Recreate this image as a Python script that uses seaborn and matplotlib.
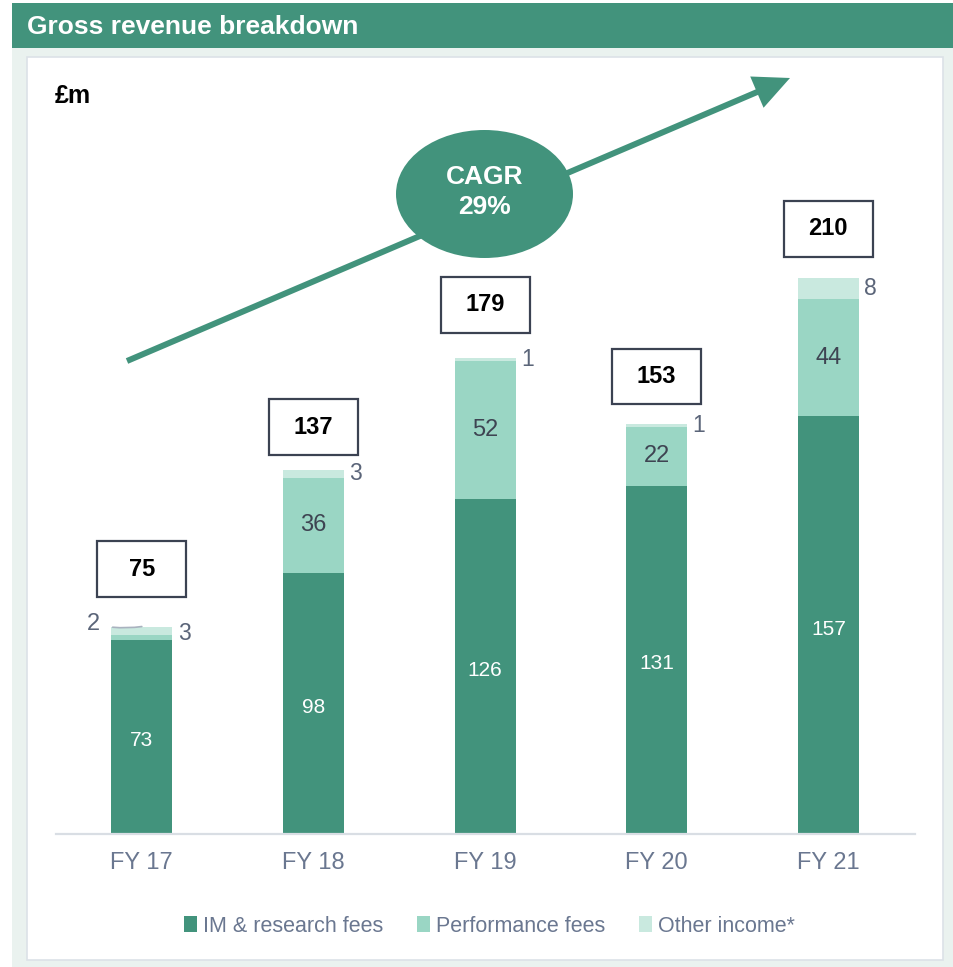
import matplotlib
matplotlib.use('Agg')
import matplotlib.pyplot as plt
import seaborn as sns
import pandas as pd
from matplotlib.patches import Rectangle, Ellipse, FancyArrow, Patch

# ---- data ----
years = ['FY 17', 'FY 18', 'FY 19', 'FY 20', 'FY 21']
im_fees = [73, 98, 126, 131, 157]
perf_fees = [2, 36, 52, 22, 44]
other_income = [3, 3, 1, 1, 8]
totals = [75, 137, 179, 153, 210]
series_names = ['IM & research fees', 'Performance fees', 'Other income*']
title = 'Gross revenue breakdown'
unit_label = '£m'
cagr_text = 'CAGR\n29%'

# ---- layout / style ----
box_offsets = [21.5, 16, 20, 18, 18.5]  # gap from stack top to total-box centre (value units)
C_IM = '#42937C'
C_PERF = '#9AD6C4'
C_OTHER = '#C9E9DF'
GREEN = '#42937C'
TICK_C = '#6A7790'
SIDE_C = '#5B6579'
INNER_DARK = '#3E4452'
BOX_EDGE = '#3B4252'

sns.set_theme(style='white')
plt.rcParams['font.family'] = ['Liberation Sans', 'DejaVu Sans']

W, H = 954, 967
fig = plt.figure(figsize=(W / 100, H / 100), dpi=100)
fig.patch.set_facecolor('white')

# background / decoration layer in pixel coordinates
bg = fig.add_axes([0, 0, 1, 1])
bg.set_xlim(0, W)
bg.set_ylim(H, 0)
bg.axis('off')
bg.add_patch(Rectangle((12, 48), W - 12, H - 48, facecolor='#EAF2EF', lw=0))
bg.add_patch(Rectangle((27, 57), 916, 903, facecolor='white', edgecolor='#DCE2E7', lw=1.2))
bg.add_patch(Rectangle((12, 3), W - 12, 45, facecolor=GREEN, lw=0))
bg.text(27, 27, title, color='white', fontsize=19, fontweight='bold', va='center', ha='left')
bg.text(55, 96, unit_label, color='black', fontsize=18, fontweight='bold', va='center', ha='left')

bg.add_patch(FancyArrow(127, 361, 790 - 127, 78 - 361, width=6, head_width=34,
                        head_length=36, length_includes_head=True, color=GREEN, lw=0))
bg.add_patch(Ellipse((484.5, 194), 177, 128, facecolor=GREEN, lw=0))
bg.text(484.5, 192, cagr_text, color='white', fontsize=19, fontweight='bold',
        ha='center', va='center', linespacing=1.35)

# ---- chart ----
ax = fig.add_axes([56 / W, (H - 834) / H, (915 - 56) / W, (834 - 60) / H])
ax.patch.set_alpha(0)

df = pd.DataFrame({'year': years, 'im': im_fees, 'perf': perf_fees, 'other': other_income})
df['lvl2'] = df['im'] + df['perf']
df['lvl3'] = df['lvl2'] + df['other']

BW = 0.355
for col, c in (('lvl3', C_OTHER), ('lvl2', C_PERF), ('im', C_IM)):
    sns.barplot(data=df, x='year', y=col, color=c, width=BW, saturation=1,
                errorbar=None, linewidth=0, edgecolor='none', ax=ax)

ax.set_xlim(-0.5, 4.505)
ax.set_ylim(0, 291)
ax.set_xlabel('')
ax.set_ylabel('')
ax.set_yticks([])
for s in ['top', 'left', 'right']:
    ax.spines[s].set_visible(False)
ax.spines['bottom'].set_color('#D9DEE4')
ax.spines['bottom'].set_linewidth(1.6)
ax.tick_params(axis='x', length=0, pad=13, labelsize=17, labelcolor=TICK_C)

for i, row in df.iterrows():
    im, pf, ot, top = row['im'], row['perf'], row['other'], row['lvl3']
    ax.text(i, im / 2 - 1.5, str(im), color='white', fontsize=15, ha='center', va='center')
    if pf >= 10:
        ax.text(i, im + pf / 2, str(pf), color=INNER_DARK, fontsize=17, ha='center', va='center')
    else:
        ax.annotate(str(pf), xy=(i, top), xytext=(-35, 2), textcoords='offset points',
                    color=SIDE_C, fontsize=17, ha='center', va='center',
                    arrowprops=dict(arrowstyle='-', color='#A9B2BF', lw=1.2,
                                    shrinkA=7, shrinkB=0, connectionstyle='arc3,rad=0.1'))
    ax.annotate(str(ot), xy=(i + BW / 2, top - ot / 2), xytext=(4, -2 if i == 0 else 0),
                textcoords='offset points', color=SIDE_C, fontsize=16.5, ha='left', va='center')
    yc = top + box_offsets[i]
    ax.add_patch(Rectangle((i - 0.259, yc - 10.5), 0.518, 21, facecolor='white',
                           edgecolor=BOX_EDGE, lw=1.6, zorder=3))
    ax.text(i, yc, str(totals[i]), color='black', fontsize=17, fontweight='bold',
            ha='center', va='center', zorder=4)

handles = [Patch(facecolor=c, edgecolor='none') for c in (C_IM, C_PERF, C_OTHER)]
fig.legend(handles, series_names, loc='center', bbox_to_anchor=(489.5 / W, 1 - 926 / H),
           ncol=3, frameon=False, fontsize=15.5, labelcolor=TICK_C, handlelength=0.6,
           handleheight=0.8, handletextpad=0.25, columnspacing=1.6)

fig.savefig('out.png', dpi=100)
